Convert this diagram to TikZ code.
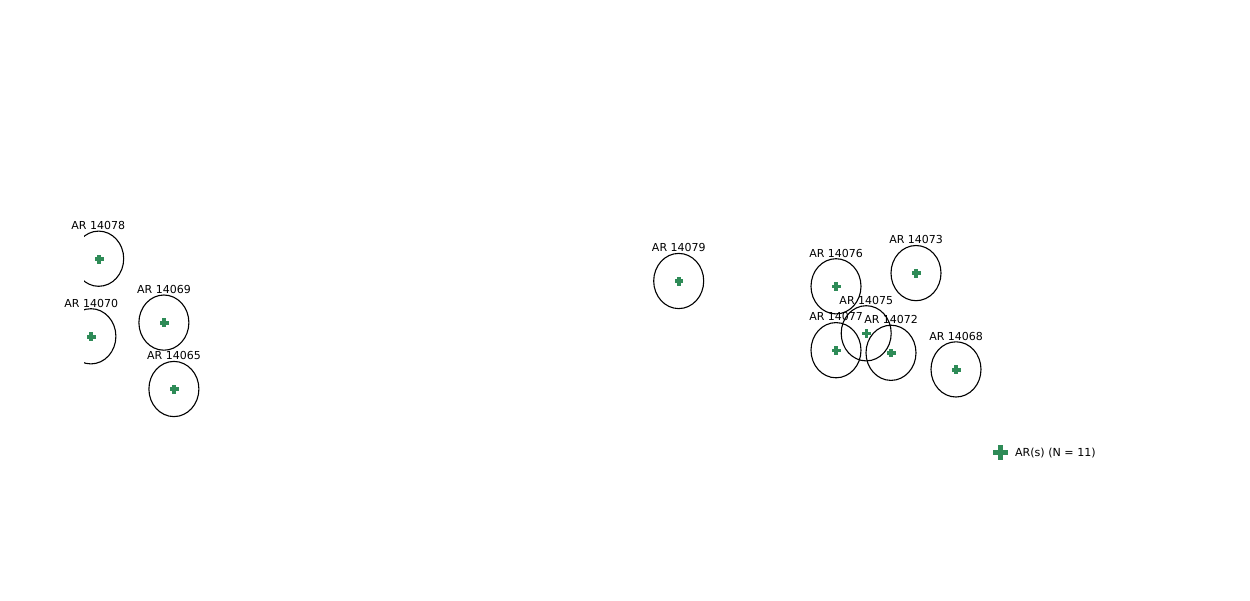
\documentclass[tikz,border=0pt]{standalone}
\usepackage{fontspec}
\setmainfont{DejaVu Sans}
\definecolor{armark}{HTML}{2E8B57}
\tikzset{
  arring/.style={draw=black,line width=1.1pt,fill=none},
  arlabel/.style={font=\fontsize{11}{13}\selectfont,text=black,anchor=base,inner sep=0pt,outer sep=0pt},
  legendlabel/.style={font=\fontsize{11.1}{13}\selectfont,text=black,anchor=base west,inner sep=0pt,outer sep=0pt},
  crossfill/.style={fill=armark,draw=none}
}
% #1 x, #2 y of marker, #3 half length, #4 half thickness
\newcommand{\arcross}[4]{%
  \fill[crossfill] (#1-#3,#2-#4) rectangle (#1+#3,#2+#4);
  \fill[crossfill] (#1-#4,#2-#3) rectangle (#1+#4,#2+#3);}
\newcommand{\arregion}[3]{%
  \draw[arring] (#2-0.3,#3-0.2) ellipse [x radius=25,y radius=27.6];
  \arcross{#2}{#3}{4.4}{1.9}
  \node[arlabel] (ar#1) at (#2-0.2,#3-29.5) {AR #1};}
\begin{document}
\begin{tikzpicture}[x=1pt,y=-1pt]
\path[use as bounding box] (0,0) rectangle (1250,600);
\begin{scope}
  \clip (84,200) rectangle (300,300);
  \draw[arring] (98.7,258.7) ellipse [x radius=25,y radius=27.6];
\end{scope}
\begin{scope}
  \clip (84,300) rectangle (300,380);
  \draw[arring] (90.9,336.3) ellipse [x radius=25,y radius=27.6];
\end{scope}
\arcross{99.3}{259.3}{4.4}{1.9}
\node[arlabel] (ar14078) at (98.2,229) {AR 14078};
\arcross{91.3}{336.6}{4.4}{1.9}
\node[arlabel] (ar14070) at (91.2,307) {AR 14070};
\arregion{14069}{164.2}{322.8}
\arregion{14065}{174.2}{389.2}
\arregion{14079}{679}{281.2}
\arregion{14076}{836.3}{286.5}
\arregion{14073}{916.3}{273.3}
\arregion{14075}{866.5}{333.5}
\arregion{14077}{836.3}{350.4}
\arregion{14072}{891.3}{353}
\arregion{14068}{956.3}{369.6}
\arcross{1000.3}{452.3}{7.5}{2.8}
\node[legendlabel] (legend) at (1015,456) {AR(s) (N = 11)};
\end{tikzpicture}
\end{document}
